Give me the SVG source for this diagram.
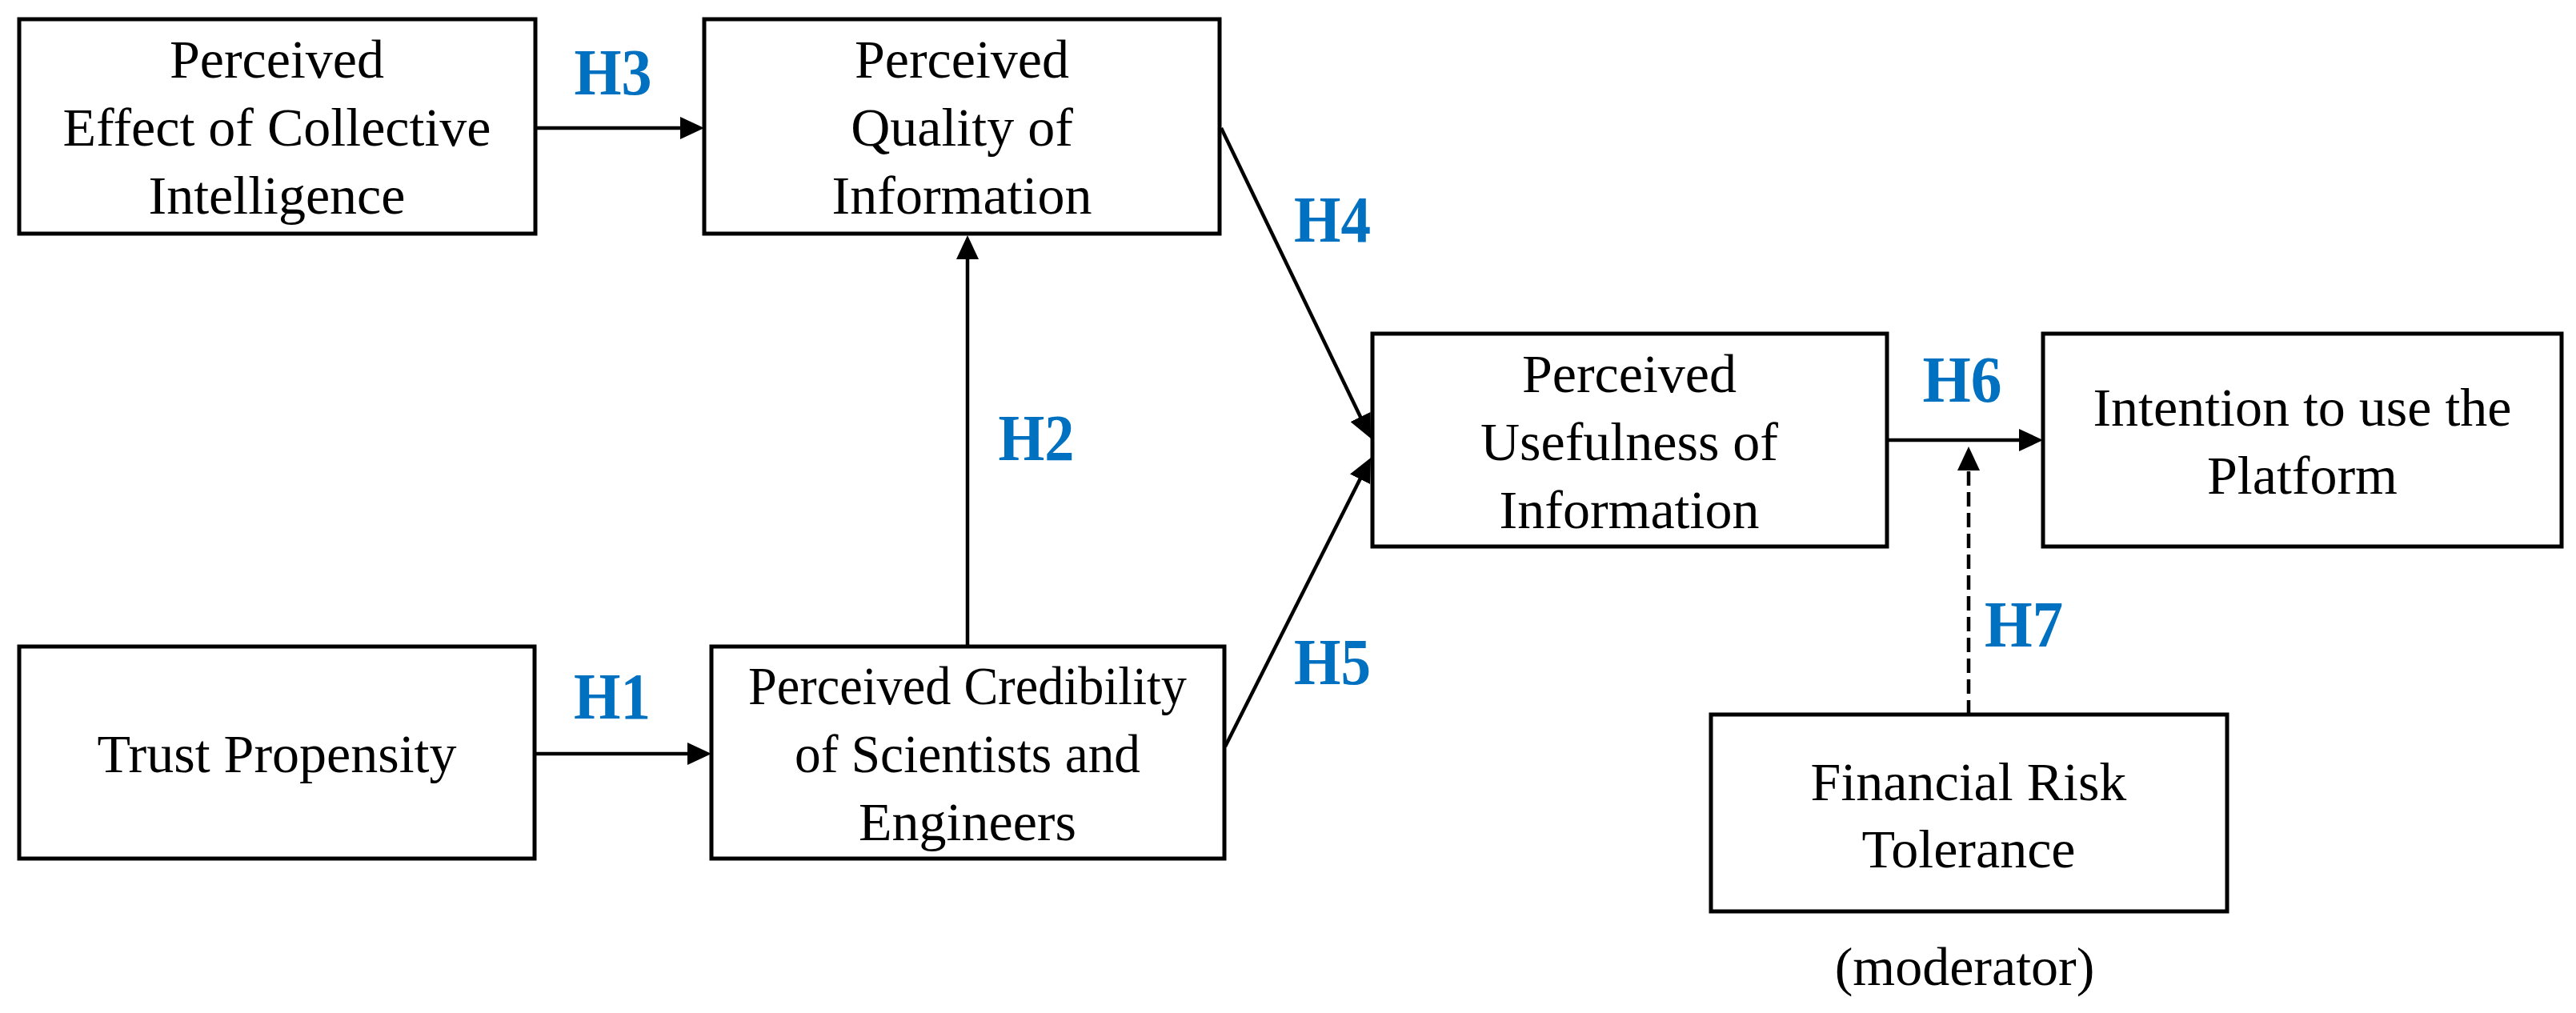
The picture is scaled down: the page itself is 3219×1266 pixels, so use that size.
<svg xmlns="http://www.w3.org/2000/svg" width="3219" height="1266" viewBox="0 0 3219 1266">
<style>
.box{fill:#fff;stroke:#000;stroke-width:5}
.t{font-family:"Liberation Serif","Times New Roman",serif;font-size:68px;fill:#000;text-anchor:middle}
.h{font-family:"Liberation Serif","Times New Roman",serif;font-size:82px;font-weight:bold;fill:#0070C0;text-anchor:middle}
.ln{stroke:#000;stroke-width:4.5;fill:none}
.dash{stroke-dasharray:18 8}
</style>
<defs>
<marker id="ah" markerUnits="userSpaceOnUse" markerWidth="30" markerHeight="28" refX="20" refY="14" orient="auto">
<path d="M0,0 L30,14 L0,28 Z" fill="#000"/>
</marker>
</defs>
<rect width="3219" height="1266" fill="#fff"/>

<g id="connectors">
<line class="ln" x1="669" y1="160" x2="870" y2="160" marker-end="url(#ah)"/>
<line class="ln" x1="668" y1="942" x2="879" y2="942" marker-end="url(#ah)"/>
<line class="ln" x1="1209" y1="808" x2="1209" y2="304" marker-end="url(#ah)"/>
<line class="ln" x1="1526" y1="160" x2="1708.7" y2="539" marker-end="url(#ah)"/>
<line class="ln" x1="1531" y1="933" x2="1708.5" y2="580.9" marker-end="url(#ah)"/>
<line class="ln" x1="2358" y1="550" x2="2543" y2="550" marker-end="url(#ah)"/>
<line class="ln dash" x1="2460" y1="893" x2="2460" y2="568" marker-end="url(#ah)"/>
<text class="h" x="766" y="118" textLength="97" lengthAdjust="spacingAndGlyphs">H3</text>
<text class="h" x="765" y="898" textLength="96" lengthAdjust="spacingAndGlyphs">H1</text>
<text class="h" x="1295" y="575" textLength="95" lengthAdjust="spacingAndGlyphs">H2</text>
<text class="h" x="1665" y="302" textLength="96" lengthAdjust="spacingAndGlyphs">H4</text>
<text class="h" x="1665" y="855" textLength="96" lengthAdjust="spacingAndGlyphs">H5</text>
<text class="h" x="2452" y="502" textLength="99" lengthAdjust="spacingAndGlyphs">H6</text>
<text class="h" x="2529" y="808" textLength="98" lengthAdjust="spacingAndGlyphs">H7</text>
</g>

<g id="n-collective">
<rect class="box" x="24" y="24" width="645" height="268"/>
<text class="t" x="346" y="97">Perceived</text>
<text class="t" x="346" y="182">Effect of Collective</text>
<text class="t" x="346" y="267">Intelligence</text>
</g>

<g id="n-quality">
<rect class="box" x="880" y="24" width="644" height="268"/>
<text class="t" x="1202" y="97">Perceived</text>
<text class="t" x="1202" y="182">Quality of</text>
<text class="t" x="1202" y="267">Information</text>
</g>

<g id="n-usefulness">
<rect class="box" x="1715" y="417" width="643" height="266"/>
<text class="t" x="2036" y="490">Perceived</text>
<text class="t" x="2036" y="575">Usefulness of</text>
<text class="t" x="2036" y="660">Information</text>
</g>

<g id="n-intention">
<rect class="box" x="2553" y="417" width="648" height="266"/>
<text class="t" x="2877" y="532">Intention to use the</text>
<text class="t" x="2877" y="617">Platform</text>
</g>

<g id="n-trust">
<rect class="box" x="24" y="808" width="644" height="265"/>
<text class="t" x="346" y="965">Trust Propensity</text>
</g>

<g id="n-credibility">
<rect class="box" x="889" y="808" width="641" height="265"/>
<text class="t" x="1209" y="880" textLength="548" lengthAdjust="spacingAndGlyphs">Perceived Credibility</text>
<text class="t" x="1209" y="965" textLength="432" lengthAdjust="spacingAndGlyphs">of Scientists and</text>
<text class="t" x="1209" y="1050">Engineers</text>
</g>

<g id="n-risk">
<rect class="box" x="2138" y="893" width="645" height="246"/>
<text class="t" x="2460" y="1000">Financial Risk</text>
<text class="t" x="2460" y="1084">Tolerance</text>
<text class="t" x="2455" y="1231">(moderator)</text>
</g>
</svg>
